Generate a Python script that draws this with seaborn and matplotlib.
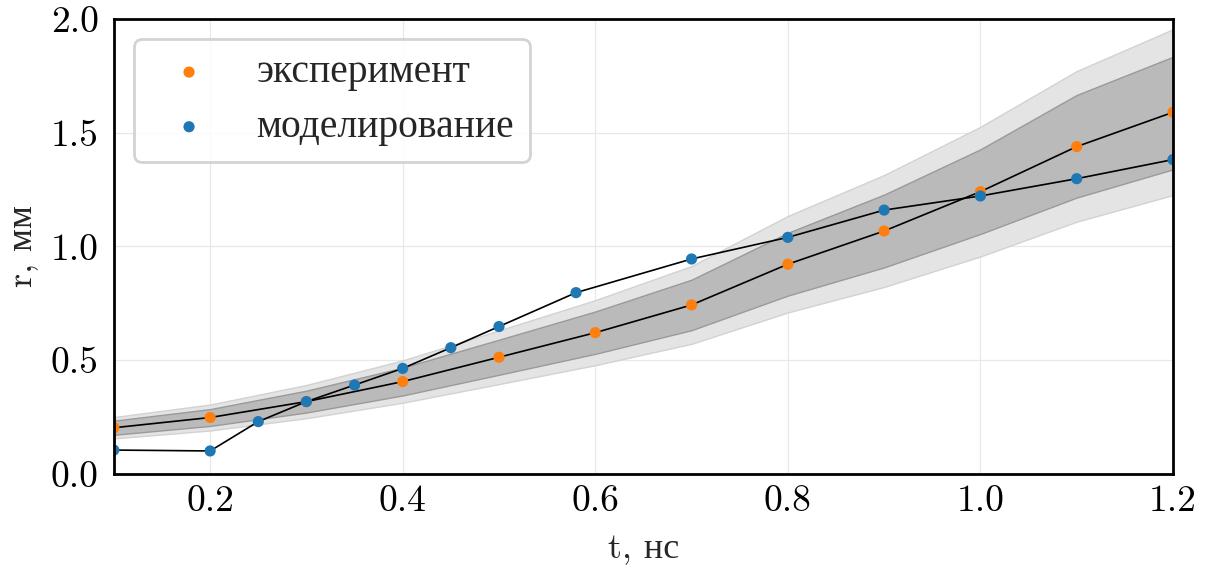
import matplotlib
matplotlib.use("Agg")
import matplotlib.pyplot as plt
import seaborn as sns
import pandas as pd

# experiment: time (ns) and radius (mm)
t_exp = [0.1, 0.2, 0.3, 0.4, 0.5, 0.6, 0.7, 0.8, 0.9, 1.0, 1.1, 1.2]
r_exp = [0.203, 0.248, 0.318, 0.406, 0.513, 0.621, 0.743, 0.922, 1.068, 1.241, 1.439, 1.590]

# uncertainty bands around the experiment
r_inner_lo = [0.172, 0.211, 0.270, 0.345, 0.436, 0.528, 0.632, 0.784, 0.908, 1.055, 1.215, 1.339]
r_inner_hi = [0.234, 0.285, 0.366, 0.467, 0.590, 0.714, 0.854, 1.060, 1.228, 1.427, 1.666, 1.834]
r_outer_lo = [0.156, 0.191, 0.245, 0.313, 0.395, 0.478, 0.572, 0.710, 0.822, 0.956, 1.109, 1.226]
r_outer_hi = [0.250, 0.305, 0.391, 0.499, 0.631, 0.764, 0.914, 1.134, 1.314, 1.526, 1.771, 1.955]

# simulation
t_sim = [0.1, 0.2, 0.25, 0.3, 0.35, 0.4, 0.45, 0.5, 0.58, 0.7, 0.8, 0.9, 1.0, 1.1, 1.2]
r_sim = [0.105, 0.101, 0.230, 0.318, 0.391, 0.464, 0.555, 0.648, 0.797, 0.945,
         1.040, 1.160, 1.222, 1.298, 1.382]

labels = ["эксперимент", "моделирование"]
x_ticks = [0.2, 0.4, 0.6, 0.8, 1.0, 1.2]
y_ticks = [0.0, 0.5, 1.0, 1.5, 2.0]

sns.set_theme(style="white")
plt.rcParams["font.family"] = ["cmr10", "Liberation Serif"]
plt.rcParams["mathtext.fontset"] = "cm"
plt.rcParams["axes.formatter.use_mathtext"] = True

df_exp = pd.DataFrame({"t": t_exp, "r": r_exp})
df_sim = pd.DataFrame({"t": t_sim, "r": r_sim})

fig = plt.figure(figsize=(12.11, 5.71), dpi=100)
ax = fig.add_axes([0.094, 0.17, 0.8746, 0.7967])

ax.fill_between(t_exp, r_outer_lo, r_outer_hi, facecolor="#e4e4e4",
                edgecolor="#d2d2d2", linewidth=1.0, zorder=1)
ax.fill_between(t_exp, r_inner_lo, r_inner_hi, facecolor="#bababa",
                edgecolor="#9a9a9a", linewidth=1.0, zorder=2)

sns.lineplot(data=df_exp, x="t", y="r", color="black", linewidth=1.2,
             ax=ax, zorder=3, legend=False)
sns.lineplot(data=df_sim, x="t", y="r", color="black", linewidth=1.2,
             ax=ax, zorder=3, legend=False)
sns.scatterplot(data=df_exp, x="t", y="r", color="#ff7f0e", s=65,
                edgecolor="none", ax=ax, zorder=4, label=labels[0])
sns.scatterplot(data=df_sim, x="t", y="r", color="#1f77b4", s=65,
                edgecolor="none", ax=ax, zorder=4, label=labels[1])

ax.set_xlim(0.1, 1.2)
ax.set_ylim(0.0, 2.0)
ax.set_xticks(x_ticks)
ax.set_yticks(y_ticks)
ax.set_xticklabels([f"{v:.1f}" for v in x_ticks])
ax.set_yticklabels([f"{v:.1f}" for v in y_ticks])
ax.grid(True, color="#e8e8e8", linewidth=0.9, zorder=0)
ax.set_axisbelow(True)

ax.tick_params(axis="both", direction="in", length=12, width=2,
               labelsize=27, colors="black")
ax.tick_params(axis="x", pad=8)
ax.tick_params(axis="y", pad=11)
for s in ax.spines.values():
    s.set_visible(True)
    s.set_color("black")
    s.set_linewidth(2)
    s.set_zorder(5)

ax.set_xlabel("t, нс", fontsize=26, labelpad=11)
ax.set_ylabel("r, мм", fontsize=26, labelpad=9)

leg = ax.legend(loc="upper left", fontsize=28.5, frameon=True, fancybox=True,
                handletextpad=0.7, borderpad=0.4, labelspacing=0.45,
                markerscale=1.0, borderaxespad=0.5)
leg.get_frame().set_edgecolor("#cccccc")
leg.get_frame().set_linewidth(2)
leg.get_frame().set_alpha(0.85)

fig.savefig("out.png", dpi=100)
